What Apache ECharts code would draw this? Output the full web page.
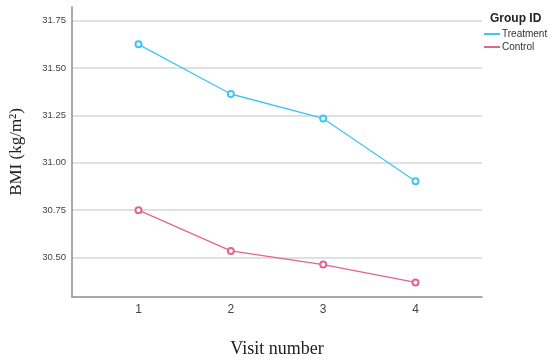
<!DOCTYPE html>
<html>
<head>
<meta charset="utf-8">
<script src="https://cdn.jsdelivr.net/npm/echarts@6/dist/echarts.min.js"></script>
<style>html,body{margin:0;padding:0;background:#fff}#c{width:550px;height:359px}</style>
</head>
<body>
<div id="c"></div>
<script>
const visits = [1, 2, 3, 4];
const treatment = [31.625, 31.363, 31.234, 30.903];
const control = [30.75, 30.535, 30.463, 30.369];
const yTicks = [30.5, 30.75, 31.0, 31.25, 31.5, 31.75];
const seriesNames = ['Treatment', 'Control'];
const legendTitle = 'Group ID';
const xTitle = 'Visit number';
const yTitle = 'BMI (kg/m\u00B2)';

const chart = echarts.init(document.getElementById('c'), null, {renderer: 'canvas'});
const colors = ['#3fc6f6', '#e2658c'];
const mk = (vals) => visits.map((v, i) => [v, vals[i]]);
chart.setOption({
  animation: false,
  title: {
    text: legendTitle, left: 485, top: 8,
    textStyle: {fontFamily: 'Liberation Sans', fontSize: 12, fontWeight: 'bold', color: '#222'}
  },
  legend: {
    orient: 'vertical', left: 479, top: 24, itemGap: 3,
    itemWidth: 16, itemHeight: 2, icon: 'rect',
    textStyle: {fontFamily: 'Liberation Sans', fontSize: 10, color: '#333', padding: [0, 0, 0, -3]},
    data: seriesNames
  },
  grid: {left: 72, right: 68, top: 7, bottom: 62, outerBoundsMode: 'none'},
  xAxis: {
    type: 'value', min: 0.28, max: 4.72,
    name: xTitle, nameLocation: 'middle', nameGap: 43,
    nameTextStyle: {fontFamily: 'Liberation Serif', fontSize: 18, color: '#222'},
    axisLine: {lineStyle: {color: '#8c8c8c', width: 1.5}},
    axisTick: {show: false, customValues: visits},
    axisLabel: {customValues: visits, margin: 7, fontFamily: 'Liberation Sans', fontSize: 12, color: '#444'},
    splitLine: {show: false}
  },
  yAxis: {
    type: 'value', min: 30.292, max: 31.822,
    name: yTitle, nameLocation: 'middle', nameGap: 47, nameRotate: 90,
    nameTextStyle: {fontFamily: 'Liberation Serif', fontSize: 17, color: '#222'},
    axisLine: {show: true, lineStyle: {color: '#8c8c8c', width: 1.5}},
    axisTick: {show: false, customValues: yTicks},
    axisLabel: {customValues: yTicks, margin: 6, fontFamily: 'Liberation Sans', fontSize: 9.5, color: '#444',
      formatter: v => v.toFixed(2)},
    splitLine: {show: true, lineStyle: {color: '#d6d6d6', width: 1.5}}
  },
  series: [
    {name: seriesNames[0], type: 'line', data: mk(treatment), color: colors[0],
     symbol: 'emptyCircle', symbolSize: 6, lineStyle: {width: 1.3}, itemStyle: {borderWidth: 1.2}},
    {name: seriesNames[1], type: 'line', data: mk(control), color: colors[1],
     symbol: 'emptyCircle', symbolSize: 6, lineStyle: {width: 1.3}, itemStyle: {borderWidth: 1.2}}
  ]
});
</script>
</body>
</html>
